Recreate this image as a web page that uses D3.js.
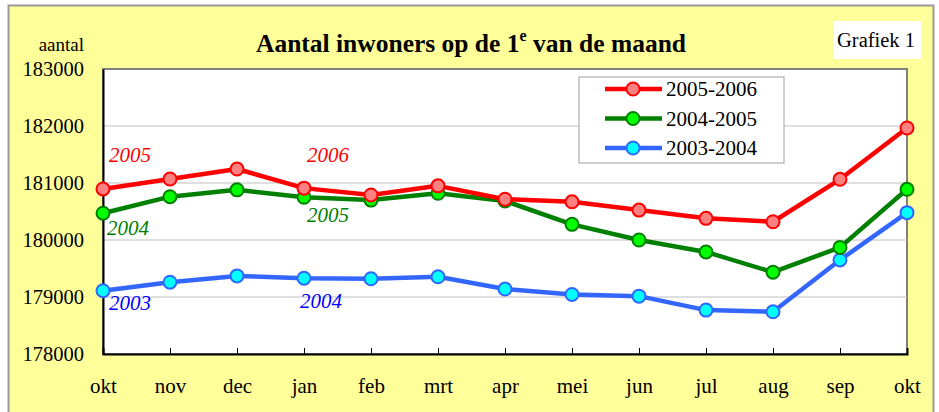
<!DOCTYPE html>
<html>
<head>
<meta charset="utf-8">
<script src="https://cdn.jsdelivr.net/npm/d3@7"></script>
<style>
  html, body { margin: 0; padding: 0; background: #fff; }
  svg { display: block; }
</style>
</head>
<body>
<div id="chart"></div>
<script>
// maanden (okt t/m okt)
const maanden = ["okt","nov","dec","jan","feb","mrt","apr","mei","jun","jul","aug","sep","okt"];
const yTicks = [178000, 179000, 180000, 181000, 182000, 183000];

const reeks0506 = [180895, 181070, 181245, 180910, 180790, 180950, 180715, 180670, 180525, 180380, 180320, 181065, 181965];
const reeks0405 = [180470, 180760, 180880, 180750, 180700, 180820, 180685, 180275, 180000, 179790, 179435, 179870, 180890];
const reeks0304 = [179110, 179260, 179370, 179330, 179320, 179355, 179140, 179045, 179015, 178770, 178740, 179650, 180480];

const series = [
  { naam: "2005-2006", values: reeks0506, line: "#ff0000", fill: "#ff8080", stroke: "#ff0000" },
  { naam: "2004-2005", values: reeks0405, line: "#008000", fill: "#00ff00", stroke: "#008000" },
  { naam: "2003-2004", values: reeks0304, line: "#3366ff", fill: "#00ffff", stroke: "#3366ff" }
];

// jaartal-labels bij de lijnen
const labels = [
  { t: "2005", i: 0, v: 181368, c: "#ff0000" },
  { t: "2006", i: 3, v: 181368, c: "#ff0000" },
  { t: "2004", i: 0, v: 180088, c: "#008000" },
  { t: "2005", i: 3, v: 180316, c: "#008000" },
  { t: "2003", i: 0, v: 178772, c: "#0000ff" },
  { t: "2004", i: 3, v: 178807, c: "#0000ff" }
];
const labelDx = [6, 3, 4, 3, 6, -4];

const W = 939, H = 412;
const margin = { top: 69, right: 32, bottom: 58, left: 103 };
const width = W - margin.left - margin.right;
const height = H - margin.top - margin.bottom;
const serif = "Liberation Serif";

const svg = d3.select("#chart").append("svg")
  .attr("width", W).attr("height", H);

// gele achtergrond
svg.append("rect")
  .attr("x", 8.5).attr("y", 5.5)
  .attr("width", 925).attr("height", 420)
  .attr("fill", "#ffff99")
  .attr("stroke", "#999").attr("stroke-width", 2);

const g = svg.append("g").attr("transform", `translate(${margin.left},${margin.top})`);

const x = d3.scalePoint().domain(d3.range(maanden.length)).range([0, width]);
const y = d3.scaleLinear().domain([178000, 183000]).range([height, 0]);

g.append("rect")
  .attr("width", width).attr("height", height)
  .attr("fill", "#fff")
  .attr("stroke", "#808080").attr("stroke-width", 2);

// rasterlijnen
g.selectAll(".grid")
  .data(yTicks.slice(1, -1))
  .enter().append("line")
  .attr("x1", 0).attr("x2", width)
  .attr("y1", d => y(d)).attr("y2", d => y(d))
  .attr("stroke", "#c0c0c0").attr("stroke-width", 1);

// assen
const yAxis = g.append("g")
  .call(d3.axisLeft(y).tickValues(yTicks).tickSize(0).tickPadding(19).tickFormat(d3.format("d")));
yAxis.select(".domain").attr("stroke", "#000").attr("stroke-width", 2);
yAxis.selectAll("text").attr("font-size", 20.5).attr("fill", "#000").attr("dy", "0.3em");

const xAxis = g.append("g")
  .attr("transform", `translate(0,${height})`)
  .call(d3.axisBottom(x).tickSize(-6).tickPadding(24).tickFormat(i => maanden[i]));
xAxis.select(".domain").attr("stroke", "#000").attr("stroke-width", 2);
xAxis.selectAll(".tick line").attr("stroke", "#000").attr("stroke-width", 1);
xAxis.selectAll("text").attr("font-size", 21).attr("fill", "#000");

// lijnen en punten
const line = d3.line().x((d, i) => x(i)).y(d => y(d));

series.slice().reverse().forEach(s => {
  g.append("path")
    .datum(s.values)
    .attr("d", line)
    .attr("fill", "none")
    .attr("stroke", s.line)
    .attr("stroke-width", 4.5)
    .attr("stroke-linejoin", "round");
  g.selectAll(null)
    .data(s.values)
    .enter().append("circle")
    .attr("cx", (d, i) => x(i))
    .attr("cy", d => y(d))
    .attr("r", 6.5)
    .attr("fill", s.fill)
    .attr("stroke", s.stroke)
    .attr("stroke-width", 2);
});

g.selectAll(".jaar")
  .data(labels)
  .enter().append("text")
  .attr("x", (d, k) => x(d.i) + labelDx[k])
  .attr("y", d => y(d.v))
  .attr("fill", d => d.c)
  .attr("font-size", 21)
  .attr("font-style", "italic")
  .text(d => d.t);

// legenda
const leg = svg.append("g").attr("transform", "translate(579,77)");
leg.append("rect")
  .attr("width", 205).attr("height", 86)
  .attr("fill", "#fff").attr("stroke", "#a0a0a0").attr("stroke-width", 1);
series.forEach((s, i) => {
  const ly = 12 + i * 29.5;
  leg.append("line")
    .attr("x1", 26).attr("x2", 83).attr("y1", ly).attr("y2", ly)
    .attr("stroke", s.line).attr("stroke-width", 4.5);
  leg.append("circle")
    .attr("cx", 54).attr("cy", ly).attr("r", 6.5)
    .attr("fill", s.fill).attr("stroke", s.stroke).attr("stroke-width", 2);
  leg.append("text")
    .attr("x", 87).attr("y", ly + 7)
    .attr("font-size", 21)
    .text(s.naam);
});

// titel
const title = svg.append("text")
  .attr("x", 471).attr("y", 52)
  .attr("text-anchor", "middle")
  .attr("font-size", 25.5).attr("font-weight", "bold");
title.append("tspan").text("Aantal inwoners op de 1");
title.append("tspan").attr("dy", -11).attr("font-size", 16).text("e");
title.append("tspan").attr("dy", 11).text(" van de maand");

svg.append("text")
  .attr("x", 84).attr("y", 51)
  .attr("text-anchor", "end")
  .attr("font-size", 19)
  .text("aantal");

// Grafiek 1
svg.append("rect")
  .attr("x", 833).attr("y", 21).attr("width", 88).attr("height", 38)
  .attr("fill", "#fff");
svg.append("text")
  .attr("x", 876).attr("y", 47)
  .attr("text-anchor", "middle")
  .attr("font-size", 20.5)
  .text("Grafiek 1");

// lettertype op elke tekst zelf zetten
svg.selectAll("text").attr("font-family", serif);
</script>
</body>
</html>
